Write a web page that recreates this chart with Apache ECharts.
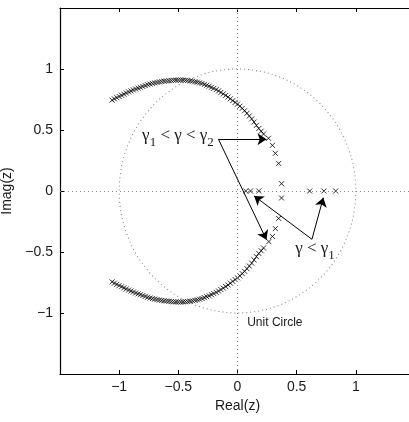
<!DOCTYPE html>
<html>
<head>
<meta charset="utf-8">
<script src="https://cdn.jsdelivr.net/npm/echarts@6/dist/echarts.min.js"></script>
<style>
  html, body { margin: 0; padding: 0; background: #fff; }
  #chart { width: 409px; height: 422px; }
</style>
</head>
<body>
<div id="chart"></div>
<script>
// Closed-loop pole locations in the z-plane as the gain gamma varies.
const upperBranch = [
  [-1.06, 0.745], [-1.04, 0.755], [-1.02, 0.765], [-1.00, 0.775], [-0.98, 0.785],
  [-0.96, 0.794], [-0.94, 0.803], [-0.92, 0.812], [-0.90, 0.820], [-0.88, 0.828],
  [-0.86, 0.836], [-0.84, 0.843], [-0.82, 0.850], [-0.80, 0.857], [-0.78, 0.864],
  [-0.76, 0.871], [-0.74, 0.877], [-0.72, 0.882], [-0.70, 0.886], [-0.68, 0.890],
  [-0.66, 0.894], [-0.64, 0.897], [-0.62, 0.900], [-0.60, 0.902], [-0.58, 0.904],
  [-0.56, 0.906], [-0.54, 0.908], [-0.52, 0.909], [-0.50, 0.910], [-0.48, 0.910],
  [-0.46, 0.909], [-0.44, 0.908], [-0.42, 0.906], [-0.40, 0.903], [-0.38, 0.900],
  [-0.36, 0.896], [-0.34, 0.892], [-0.32, 0.887], [-0.30, 0.881], [-0.28, 0.874],
  [-0.26, 0.867], [-0.24, 0.859], [-0.22, 0.850], [-0.20, 0.841], [-0.18, 0.831],
  [-0.16, 0.820], [-0.14, 0.808], [-0.12, 0.796], [-0.10, 0.783], [-0.08, 0.770],
  [-0.06, 0.756], [-0.04, 0.741], [-0.02, 0.726], [0.00, 0.712], [0.02, 0.695],
  [0.04, 0.677], [0.06, 0.658], [0.08, 0.637], [0.10, 0.615], [0.12, 0.591],
  [0.14, 0.565], [0.16, 0.538], [0.18, 0.512], [0.20, 0.490], [0.22, 0.467],
  [0.262, 0.432], [0.295, 0.374], [0.320, 0.309], [0.348, 0.226], [0.372, 0.060]
];
const lowerBranch = [
  [-1.06, -0.745], [-1.04, -0.755], [-1.02, -0.765], [-1.00, -0.775], [-0.98, -0.785],
  [-0.96, -0.794], [-0.94, -0.803], [-0.92, -0.812], [-0.90, -0.820], [-0.88, -0.828],
  [-0.86, -0.836], [-0.84, -0.843], [-0.82, -0.850], [-0.80, -0.857], [-0.78, -0.864],
  [-0.76, -0.871], [-0.74, -0.877], [-0.72, -0.882], [-0.70, -0.886], [-0.68, -0.890],
  [-0.66, -0.894], [-0.64, -0.897], [-0.62, -0.900], [-0.60, -0.902], [-0.58, -0.904],
  [-0.56, -0.906], [-0.54, -0.908], [-0.52, -0.909], [-0.50, -0.910], [-0.48, -0.910],
  [-0.46, -0.909], [-0.44, -0.908], [-0.42, -0.906], [-0.40, -0.903], [-0.38, -0.900],
  [-0.36, -0.896], [-0.34, -0.892], [-0.32, -0.887], [-0.30, -0.881], [-0.28, -0.874],
  [-0.26, -0.867], [-0.24, -0.859], [-0.22, -0.850], [-0.20, -0.841], [-0.18, -0.831],
  [-0.16, -0.820], [-0.14, -0.808], [-0.12, -0.796], [-0.10, -0.783], [-0.08, -0.770],
  [-0.06, -0.756], [-0.04, -0.741], [-0.02, -0.726], [0.00, -0.712], [0.02, -0.695],
  [0.04, -0.677], [0.06, -0.658], [0.08, -0.637], [0.10, -0.615], [0.12, -0.591],
  [0.14, -0.565], [0.16, -0.538], [0.18, -0.512], [0.20, -0.490], [0.22, -0.467],
  [0.265, -0.415], [0.295, -0.373], [0.320, -0.308], [0.348, -0.225], [0.372, -0.057]
];
const realPoles = [[0.07, 0], [0.11, 0], [0.18, 0], [0.61, 0], [0.73, 0], [0.83, 0]];

const xTicks = [-1, -0.5, 0, 0.5, 1];
const yTicks = [-1, -0.5, 0, 0.5, 1];

const SANS = "'Liberation Sans', Arial, Helvetica, sans-serif";
const SERIF = "'Liberation Serif', 'Times New Roman', serif";
const INK = '#1a1a1a';
const fmt = v => String(v).replace('-', '\u2212');
const cross = 'path://M0,0L10,10M0,10L10,0';
const crossStyle = { color: 'transparent', borderColor: '#000', borderWidth: 1 };

const tickStyle = { inside: true, length: 4, lineStyle: { color: '#000' } };
const lineStyle = { onZero: false, lineStyle: { color: '#000', width: 1.2 } };

const chart = echarts.init(document.getElementById('chart'), null, { renderer: 'canvas' });

chart.setOption({
  animation: false,
  backgroundColor: '#fff',
  grid: { left: 60, top: 8, width: 355, height: 366, containLabel: false, outerBoundsMode: 'none' },
  xAxis: [
    {
      type: 'value', min: -1.5, max: 1.5, interval: 0.5, position: 'bottom',
      axisLine: lineStyle,
      axisTick: Object.assign({ customValues: xTicks }, tickStyle),
      axisLabel: { customValues: xTicks, formatter: fmt, color: INK, fontSize: 14, fontFamily: SANS, margin: 6 },
      splitLine: { show: false },
      name: 'Real(z)', nameLocation: 'middle', nameGap: 25,
      nameTextStyle: { color: INK, fontSize: 14, fontFamily: SANS }
    },
    {
      type: 'value', min: -1.5, max: 1.5, interval: 0.5, position: 'top',
      axisLine: lineStyle,
      axisTick: Object.assign({ customValues: xTicks }, tickStyle),
      axisLabel: { show: false },
      splitLine: { show: false }
    }
  ],
  yAxis: [
    {
      type: 'value', min: -1.5, max: 1.5, interval: 0.5, position: 'left',
      axisLine: lineStyle,
      axisTick: Object.assign({ customValues: yTicks }, tickStyle),
      axisLabel: { customValues: yTicks, formatter: fmt, color: INK, fontSize: 14, fontFamily: SANS, margin: 7 },
      splitLine: { show: false },
      name: 'Imag(z)', nameLocation: 'middle', nameGap: 30,
      nameTextStyle: { color: INK, fontSize: 14, fontFamily: SANS }
    },
    {
      type: 'value', min: -1.5, max: 1.5, interval: 0.5, position: 'right',
      axisLine: lineStyle,
      axisTick: Object.assign({ customValues: yTicks }, tickStyle),
      axisLabel: { show: false },
      splitLine: { show: false }
    }
  ],
  series: [
    {
      name: 'upper', type: 'scatter', data: upperBranch, z: 3,
      symbol: cross, symbolSize: 5, itemStyle: crossStyle, silent: true,
      markLine: {
        silent: true, symbol: ['none', 'arrow'], symbolSize: 9,
        label: { show: false }, emphasis: { disabled: true },
        lineStyle: { color: '#000', width: 1, type: 'solid' },
        data: [
          [{ coord: [-0.161, 0.424] }, { coord: [0.245, 0.424] }],
          [{ coord: [-0.161, 0.424] }, { coord: [0.245, -0.400] }],
          [{ coord: [0.629, -0.396] }, { coord: [0.140, -0.040] }],
          [{ coord: [0.629, -0.396] }, { coord: [0.725, -0.055] }]
        ]
      }
    },
    {
      name: 'lower', type: 'scatter', data: lowerBranch, z: 3,
      symbol: cross, symbolSize: 5, itemStyle: crossStyle, silent: true
    },
    {
      name: 'real', type: 'scatter', data: realPoles, z: 3,
      symbol: cross, symbolSize: 5, itemStyle: crossStyle, silent: true,
      markLine: {
        silent: true, symbol: ['none', 'none'],
        label: { show: false }, emphasis: { disabled: true },
        lineStyle: { color: '#888', width: 1, type: [1, 3] },
        data: [{ xAxis: 0 }, { yAxis: 0 }]
      }
    }
  ]
});

// Unit circle and text annotations placed in data coordinates.
const px = (x, y) => chart.convertToPixel({ xAxisIndex: 0, yAxisIndex: 0 }, [x, y]);
const c = px(0, 0);
const rx = px(1, 0)[0] - c[0];
const ry = c[1] - px(0, 1)[1];

const MAIN_SIZE = 17, SUB_SIZE = 13, SUB_DROP = 7;
const measure = document.createElement('canvas').getContext('2d');
const textWidth = (s, size) => {
  measure.font = size + "px 'Liberation Serif', 'Times New Roman', serif";
  return measure.measureText(s).width;
};

// Lay out a formula made of normal runs and subscript runs, left to right.
function formula(pieces, at) {
  let x = at[0];
  return pieces.map(([s, sub]) => {
    const size = sub ? SUB_SIZE : MAIN_SIZE;
    const el = {
      type: 'text', silent: true, z: 10, x: x, y: at[1] + (sub ? SUB_DROP : 0),
      style: { text: s, fontSize: size, fontFamily: SERIF, fill: INK, verticalAlign: 'middle', align: 'left' }
    };
    x += textWidth(s, size);
    return el;
  });
}

const rangeLabel = formula([['\u03b3', false], ['1', true], [' < \u03b3 < \u03b3', false], ['2', true]], px(-0.806, 0.451));
const lowLabel = formula([['\u03b3 < \u03b3', false], ['1', true]], px(0.488, -0.470));
const t3 = px(0.082, -1.082);

chart.setOption({
  graphic: [
    {
      type: 'circle', silent: true, z: 0,
      x: c[0], y: c[1], scaleY: ry / rx,
      shape: { cx: 0, cy: 0, r: rx },
      style: { fill: 'none', stroke: '#808080', lineWidth: 1, lineDash: [1, 3], strokeNoScale: true }
    },
    ...rangeLabel,
    ...lowLabel,
    {
      type: 'text', silent: true, z: 10, x: t3[0], y: t3[1],
      style: { text: 'Unit Circle', fontSize: 12, fontFamily: SANS, fill: INK, verticalAlign: 'middle', align: 'left' }
    }
  ]
});
</script>
</body>
</html>
